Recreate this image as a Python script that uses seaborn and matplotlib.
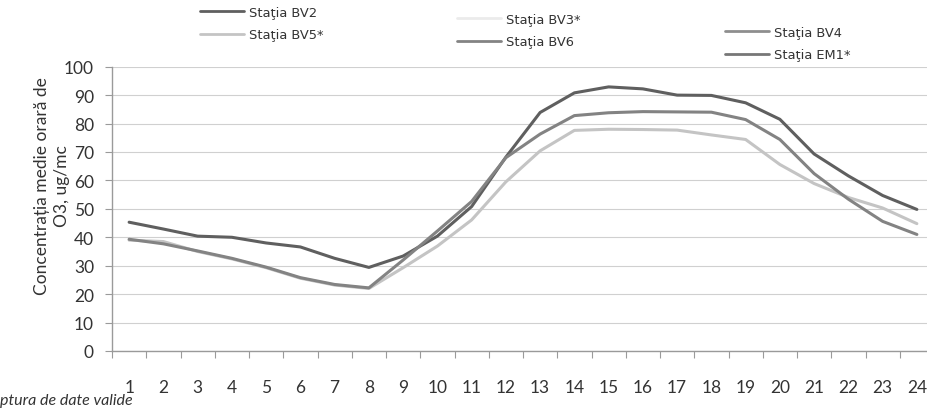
import pandas as pd
import seaborn as sns
import matplotlib.pyplot as plt
from matplotlib.ticker import MultipleLocator

# valori (ug/mc), ora 1..24
ore = list(range(1, 25))
statii = ["Staţia BV2", "Staţia BV5*", "Staţia BV3*", "Staţia BV6", "Staţia BV4", "Staţia EM1*"]

bv2 = [45.3, 42.9, 40.4, 40.0, 38.0, 36.6, 32.6, 29.4, 33.4, 40.4, 50.8, 68.2,
       83.9, 90.8, 92.9, 92.2, 90.0, 89.9, 87.3, 81.5, 69.3, 61.6, 54.7, 49.8]
bv6 = [39.3, 37.7, 35.2, 32.6, 29.5, 25.8, 23.4, 22.2, 32.0, 42.2, 52.6, 68.0,
       76.3, 82.8, 83.8, 84.2, 84.1, 84.0, 81.4, 74.4, 62.4, 53.4, 45.6, 41.0]
bv5 = [39.0, 38.5, 35.0, 32.4, 29.3, 25.6, 23.2, 22.0, 29.3, 36.9, 46.1, 59.5,
       70.4, 77.6, 78.0, 77.9, 77.7, 76.0, 74.4, 65.6, 58.9, 54.0, 50.3, 44.8]

culori = {
    "Staţia BV2": "#5f5f5f",
    "Staţia BV5*": "#c4c4c4",
    "Staţia BV3*": "#ebebeb",
    "Staţia BV6": "#838383",
    "Staţia BV4": "#8e8e8e",
    "Staţia EM1*": "#777777",
}

df = pd.concat([
    pd.DataFrame({"ora": ore, "o3": vals, "statie": name})
    for name, vals in [("Staţia BV2", bv2), ("Staţia BV6", bv6), ("Staţia BV5*", bv5)]
])

sns.set_theme(style="white")
plt.rcParams["font.family"] = ["Lato", "DejaVu Sans"]

fig = plt.figure(figsize=(9.27, 4.10), dpi=100)
ax = fig.add_axes([112 / 927, 1 - 352 / 410, 822 / 927, (352 - 67.7) / 410])

sns.lineplot(
    data=df, x="ora", y="o3",
    hue="statie", hue_order=statii, palette=culori,
    linewidth=2.2, ax=ax,
)

ax.set_xlim(0.5, 24.5)
ax.set_ylim(0, 100)
ax.yaxis.set_major_locator(MultipleLocator(10))
ax.set_xticks(ore)
ax.set_xticks([o + 0.5 for o in range(0, 25)], minor=True)
ax.grid(axis="y", color="#d0d0d0", linewidth=0.8)
ax.set_axisbelow(True)

for side in ["top", "right"]:
    ax.spines[side].set_visible(False)
for side in ["left", "bottom"]:
    ax.spines[side].set_color("#9a9a9a")
    ax.spines[side].set_linewidth(1.0)

ax.tick_params(axis="y", which="major", left=True, length=5, width=0.8,
               color="#9a9a9a", labelsize=12.5, labelcolor="#333333", pad=8)
ax.tick_params(axis="x", which="major", bottom=False, labelsize=12.5,
               labelcolor="#333333", pad=14)
ax.tick_params(axis="x", which="minor", bottom=True, length=5, width=0.8,
               color="#9a9a9a")

ax.set_xlabel("")
ax.set_ylabel("Concentrația medie orară de\nO3, ug/mc", fontsize=12.5,
              color="#333333", ha="center", va="center", linespacing=1.3)
ax.yaxis.set_label_coords(-0.073, 0.584)

# legenda: trei coloane decalate, ca in original
leg = ax.get_legend()
handles = leg.legend_handles
labels = [t.get_text() for t in leg.get_texts()]
leg.remove()
lookup = dict(zip(labels, handles))

coloane = [
    (["Staţia BV2", "Staţia BV5*"], 200, 7),
    (["Staţia BV3*", "Staţia BV6"], 457, 14),
    (["Staţia BV4", "Staţia EM1*"], 725, 27),
]
for names, px, py in coloane:
    lg = fig.legend(
        [lookup[n] for n in names], names,
        loc="upper left", bbox_to_anchor=(px / 927, 1 - py / 410),
        frameon=False, borderpad=0, borderaxespad=0,
        handlelength=3.4, handletextpad=0.35, labelspacing=0.72,
        prop={"family": "DejaVu Sans", "size": 9.4},
    )
    for t in lg.get_texts():
        t.set_color("#333333")
    for h in lg.legend_handles:
        h.set_linewidth(2.0)

fig.text(0.0, 2 / 410, "ptura de date valide", fontsize=11.5,
         style="italic", color="#333333", va="bottom", ha="left")

fig.savefig("out.png", dpi=100)
